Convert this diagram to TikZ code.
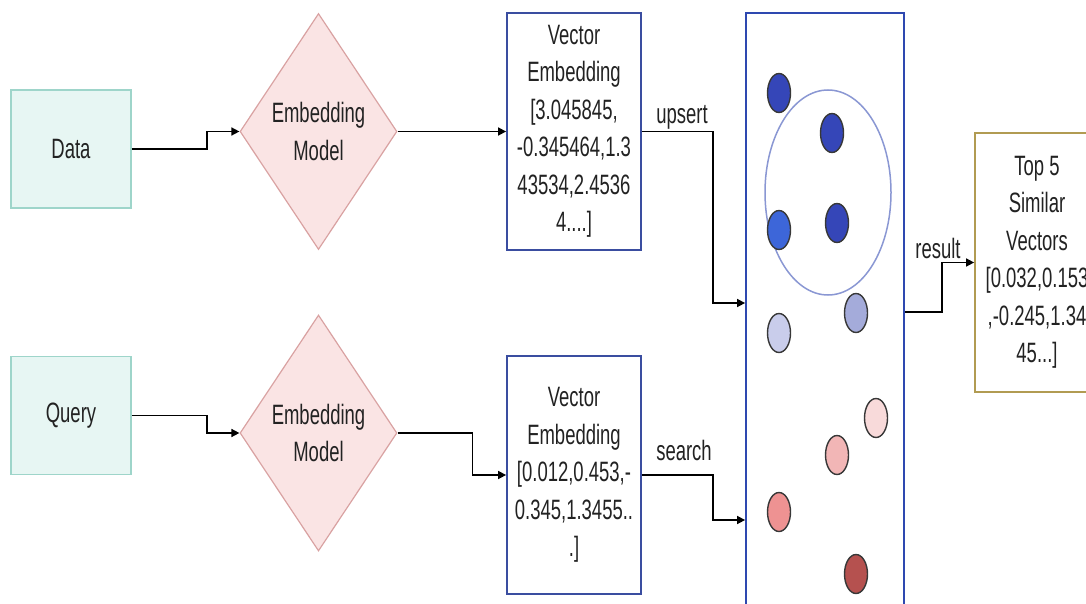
\documentclass[tikz,border=0pt]{standalone}
\usepackage{fontspec}
\setmainfont[FakeStretch=0.66]{Liberation Sans}
\usetikzlibrary{shapes.geometric,arrows.meta}

\definecolor{srcfill}{HTML}{E7F6F3}
\definecolor{srcline}{HTML}{9ED5CA}
\definecolor{modfill}{HTML}{FAE4E4}
\definecolor{modline}{HTML}{D9A2A2}
\definecolor{vecline}{HTML}{3A4DA0}
\definecolor{dbline}{HTML}{2E48B0}
\definecolor{ringline}{HTML}{8A97D3}
\definecolor{resline}{HTML}{B19B52}
\definecolor{ink}{HTML}{222222}
\definecolor{dotA}{HTML}{3546B8}
\definecolor{dotB}{HTML}{3D66D9}
\definecolor{dotC}{HTML}{C9CDEB}
\definecolor{dotD}{HTML}{A4ABDA}
\definecolor{dotE}{HTML}{F8DADA}
\definecolor{dotF}{HTML}{F2B6B6}
\definecolor{dotG}{HTML}{EE9292}
\definecolor{dotH}{HTML}{B5514F}

\tikzset{
  txt/.style={font=\fontsize{28}{37.5}\selectfont, text=ink, align=center},
  srcbox/.style={txt, draw=srcline, fill=srcfill, line width=1.6pt,
    minimum width=120pt, minimum height=118pt, inner sep=0pt},
  model/.style={txt, shape=diamond, aspect=0.665, draw=modline, fill=modfill,
    line width=1.2pt, minimum width=157pt, minimum height=236pt, inner sep=0pt},
  vecbox/.style={txt, draw=vecline, fill=white, line width=1.8pt,
    minimum width=134pt, inner sep=0pt},
  dbbox/.style={draw=dbline, line width=1.8pt, minimum width=158pt,
    minimum height=640pt, inner sep=0pt},
  resbox/.style={txt, draw=resline, fill=white, line width=1.8pt,
    minimum width=124pt, minimum height=259pt, inner sep=0pt},
  ring/.style={shape=ellipse, draw=ringline, line width=1.5pt,
    minimum width=126pt, minimum height=205pt, inner sep=0pt},
  pt/.style={shape=ellipse, draw=ink!90, line width=1.4pt,
    minimum width=23pt, minimum height=39pt, inner sep=0pt},
  link/.style={draw=black, line width=1.6pt,
    -{Triangle[length=8pt,width=8pt]}},
  lbl/.style={font=\fontsize{28}{37.5}\selectfont, text=ink, inner sep=0pt, anchor=base},
}

\begin{document}
\begin{tikzpicture}[x=1pt,y=-1pt]
\useasboundingbox (0,0) rectangle (1086,604);
\clip (0,0) rectangle (1086,604);

% inputs
\node[srcbox] (data)  at (71,149)   {Data};
\node[srcbox] (query) at (71,415.5) {Query};

% embedding models
\node[model] (emb1) at (318.5,131.5) {Embedding\\Model};
\node[model] (emb2) at (318.5,433) {Embedding\\Model};

% embeddings
\node[vecbox, minimum height=237pt] (vec1) at (574,131.5)
  {Vector\\Embedding\\[0pt][3.045845,\\-0.345464,1.3\\43534,2.4536\\4....]};
\node[vecbox, minimum height=238pt] (vec2) at (574,475)
  {Vector\\Embedding\\[0pt][0.012,0.453,-\\0.345,1.3455..\\.]};

% vector store
\node[dbbox] (db) at (825,333) {};
\node[ring] (cluster) at (828,192.5) {};
\node[pt, fill=dotA] (p1)  at (779,93)  {};
\node[pt, fill=dotA] (p2)  at (832,133) {};
\node[pt, fill=dotB] (p3)  at (779,230) {};
\node[pt, fill=dotA] (p4)  at (837,223) {};
\node[pt, fill=dotD] (p5)  at (856,313) {};
\node[pt, fill=dotC] (p6)  at (779,333) {};
\node[pt, fill=dotE] (p7)  at (876,418) {};
\node[pt, fill=dotF] (p8)  at (837,455) {};
\node[pt, fill=dotG] (p9)  at (779,512) {};
\node[pt, fill=dotH] (p10) at (856,574) {};

% result
\node[resbox] (top) at (1037,262.5)
  {Top 5\\Similar\\Vectors\\[0pt][0.032,0.153\\,-0.245,1.34\\45...]};

% connection points on the store
\coordinate (dbup) at (db.west |- 0,303);
\coordinate (dbsr) at (db.west |- 0,520);
\coordinate (dbout) at (db.east |- 0,312);

% connectors
\draw[link] (data.east) -- ++(75,0) |- (emb1.west);
\draw[link] (query.east) -- ++(75,0) |- (emb2.west);
\draw[link] (emb1.east) -- (vec1.west);
\draw[link] (emb2.east) -- ++(75,0) |- (vec2.west);
\draw[link] (vec1.east) -- ++(71,0) |- (dbup);
\draw[link] (vec2.east) -- ++(71,0) |- (dbsr);
\draw[link] (dbout) -- ++(37,0) |- (top.west);

% connector labels
\node[lbl] (lup) at (682,124) {upsert};
\node[lbl] (lsr) at (684,460) {search};
\node[lbl] (lrs) at (938,258) {result};
\end{tikzpicture}
\end{document}
